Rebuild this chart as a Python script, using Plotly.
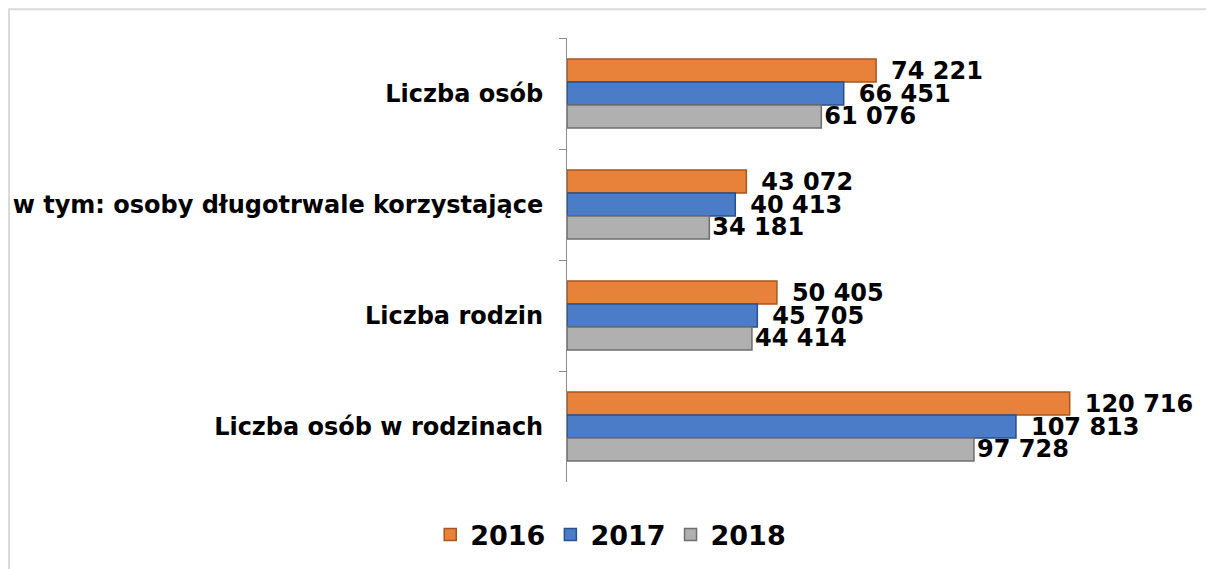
import plotly.graph_objects as go

categories = [
    "Liczba osób",
    "w tym: osoby długotrwale korzystające",
    "Liczba rodzin",
    "Liczba osób w rodzinach",
]
years = ["2016", "2017", "2018"]
values_2016 = [74221, 43072, 50405, 120716]
values_2017 = [66451, 40413, 45705, 107813]
values_2018 = [61076, 34181, 44414, 97728]

series = [
    ("2016", values_2016, "#E8823A", "#A8561C", "\u2002"),
    ("2017", values_2017, "#4A7CC8", "#2A4F8C", "\u2002"),
    ("2018", values_2018, "#B0B0B0", "#6E6E6E", ""),
]


def fmt(v):
    return f"{v:,}".replace(",", " ")


fig = go.Figure()
for name, vals, color, edge, pad in series:
    fig.add_trace(go.Bar(
        y=categories,
        x=vals,
        name=name,
        orientation="h",
        marker=dict(color=color, line=dict(color=edge, width=1.5)),
        text=[pad + fmt(v) for v in vals],
        textposition="outside",
        constraintext="none",
        cliponaxis=False,
        textfont=dict(family="DejaVu Sans", size=24, color="black", weight="bold"),
    ))

# page body has an 8px margin, so the figure is 8px smaller than the window
fig.update_layout(
    width=1206,
    height=561,
    barmode="group",
    bargap=0.38,
    bargroupgap=0,
    paper_bgcolor="white",
    plot_bgcolor="white",
    margin=dict(l=559, r=64, t=30, b=87, autoexpand=False),
    font=dict(family="DejaVu Sans", color="black"),
    showlegend=True,
    legend=dict(
        orientation="h",
        x=0.075, xanchor="center",
        y=-0.119, yanchor="middle",
        font=dict(family="DejaVu Sans", size=27, color="black", weight="bold"),
        itemwidth=30,
    ),
)

fig.update_xaxes(range=[0, 140000], visible=False)
fig.update_yaxes(
    autorange="reversed",
    automargin=False,
    showline=True,
    linecolor="#8C8C8C",
    linewidth=1,
    ticks="outside",
    tickson="boundaries",
    ticklen=7,
    tickcolor="#8C8C8C",
    ticklabelstandoff=18,
    tickfont=dict(family="DejaVu Sans", size=24, color="black", weight="bold"),
    showgrid=False,
)

# light frame around the chart area (only top and left edges are visible)
fig.add_shape(
    type="rect", xref="paper", yref="paper",
    x0=-0.957, x1=2, y0=-0.5, y1=1.065,
    line=dict(color="#D9D9D9", width=2),
    fillcolor="rgba(0,0,0,0)", layer="below",
)

fig.write_html("out.html")
